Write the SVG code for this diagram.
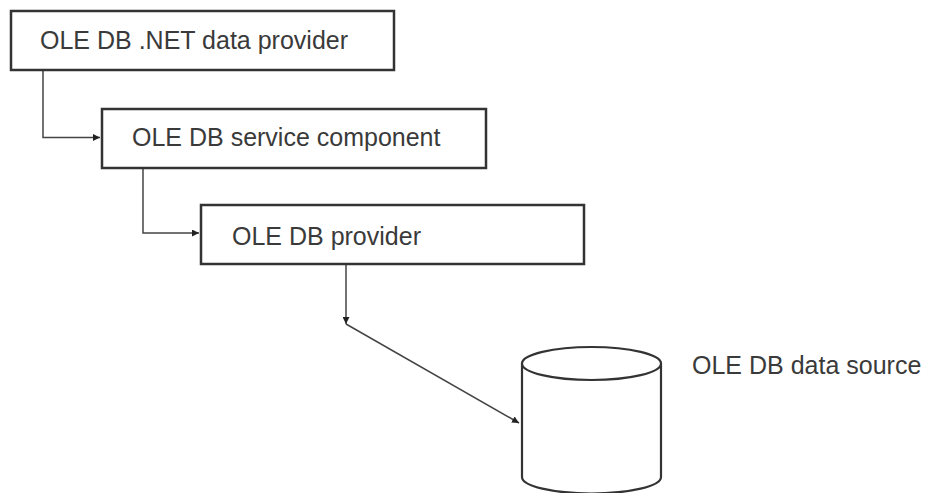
<svg xmlns="http://www.w3.org/2000/svg" width="927" height="493" viewBox="0 0 927 493">
  <style>
    .box { fill: #ffffff; stroke: #333333; stroke-width: 2.5; }
    .label { font-family: "Liberation Sans", Arial, sans-serif; font-size: 25px; fill: #3a3a3a; }
    .link { fill: none; stroke: #444444; stroke-width: 1.5; }
    .drum { fill: #ffffff; stroke: #333333; stroke-width: 2.2; }
  </style>
  <defs>
    <marker id="arrow" viewBox="0 0 10 10" refX="10" refY="5" markerWidth="7" markerHeight="7" orient="auto" markerUnits="userSpaceOnUse">
      <path d="M0,0 L10,5 L0,10 Z" fill="#222222"/>
    </marker>
  </defs>
  <rect width="927" height="493" fill="#ffffff"/>

  <!-- connectors -->
  <g id="connectors">
    <polyline class="link" points="43,70 43,137.5 100,137.5" marker-end="url(#arrow)"/>
    <polyline class="link" points="143,168 143,233 199,233" marker-end="url(#arrow)"/>
    <polyline class="link" points="346,264 346,324" marker-end="url(#arrow)"/>
    <polyline class="link" points="346,324 519,423" marker-end="url(#arrow)"/>
  </g>

  <g id="net-provider">
    <rect class="box" x="11" y="11" width="383" height="59"/>
    <text class="label" x="40" y="49">OLE DB .NET data provider</text>
  </g>

  <g id="service-component">
    <rect class="box" x="102" y="109" width="384" height="59"/>
    <text class="label" x="132" y="146">OLE DB service component</text>
  </g>

  <g id="db-provider">
    <rect class="box" x="201" y="205" width="383" height="59"/>
    <text class="label" x="232" y="245">OLE DB provider</text>
  </g>

  <g id="data-source">
    <path class="drum" d="M522,363.5 L522,477 A69.5,16.5 0 0 0 661,477 L661,363.5"/>
    <ellipse class="drum" cx="591.5" cy="363.5" rx="69.5" ry="16.5"/>
    <text class="label" x="692" y="374">OLE DB data source</text>
  </g>
</svg>
